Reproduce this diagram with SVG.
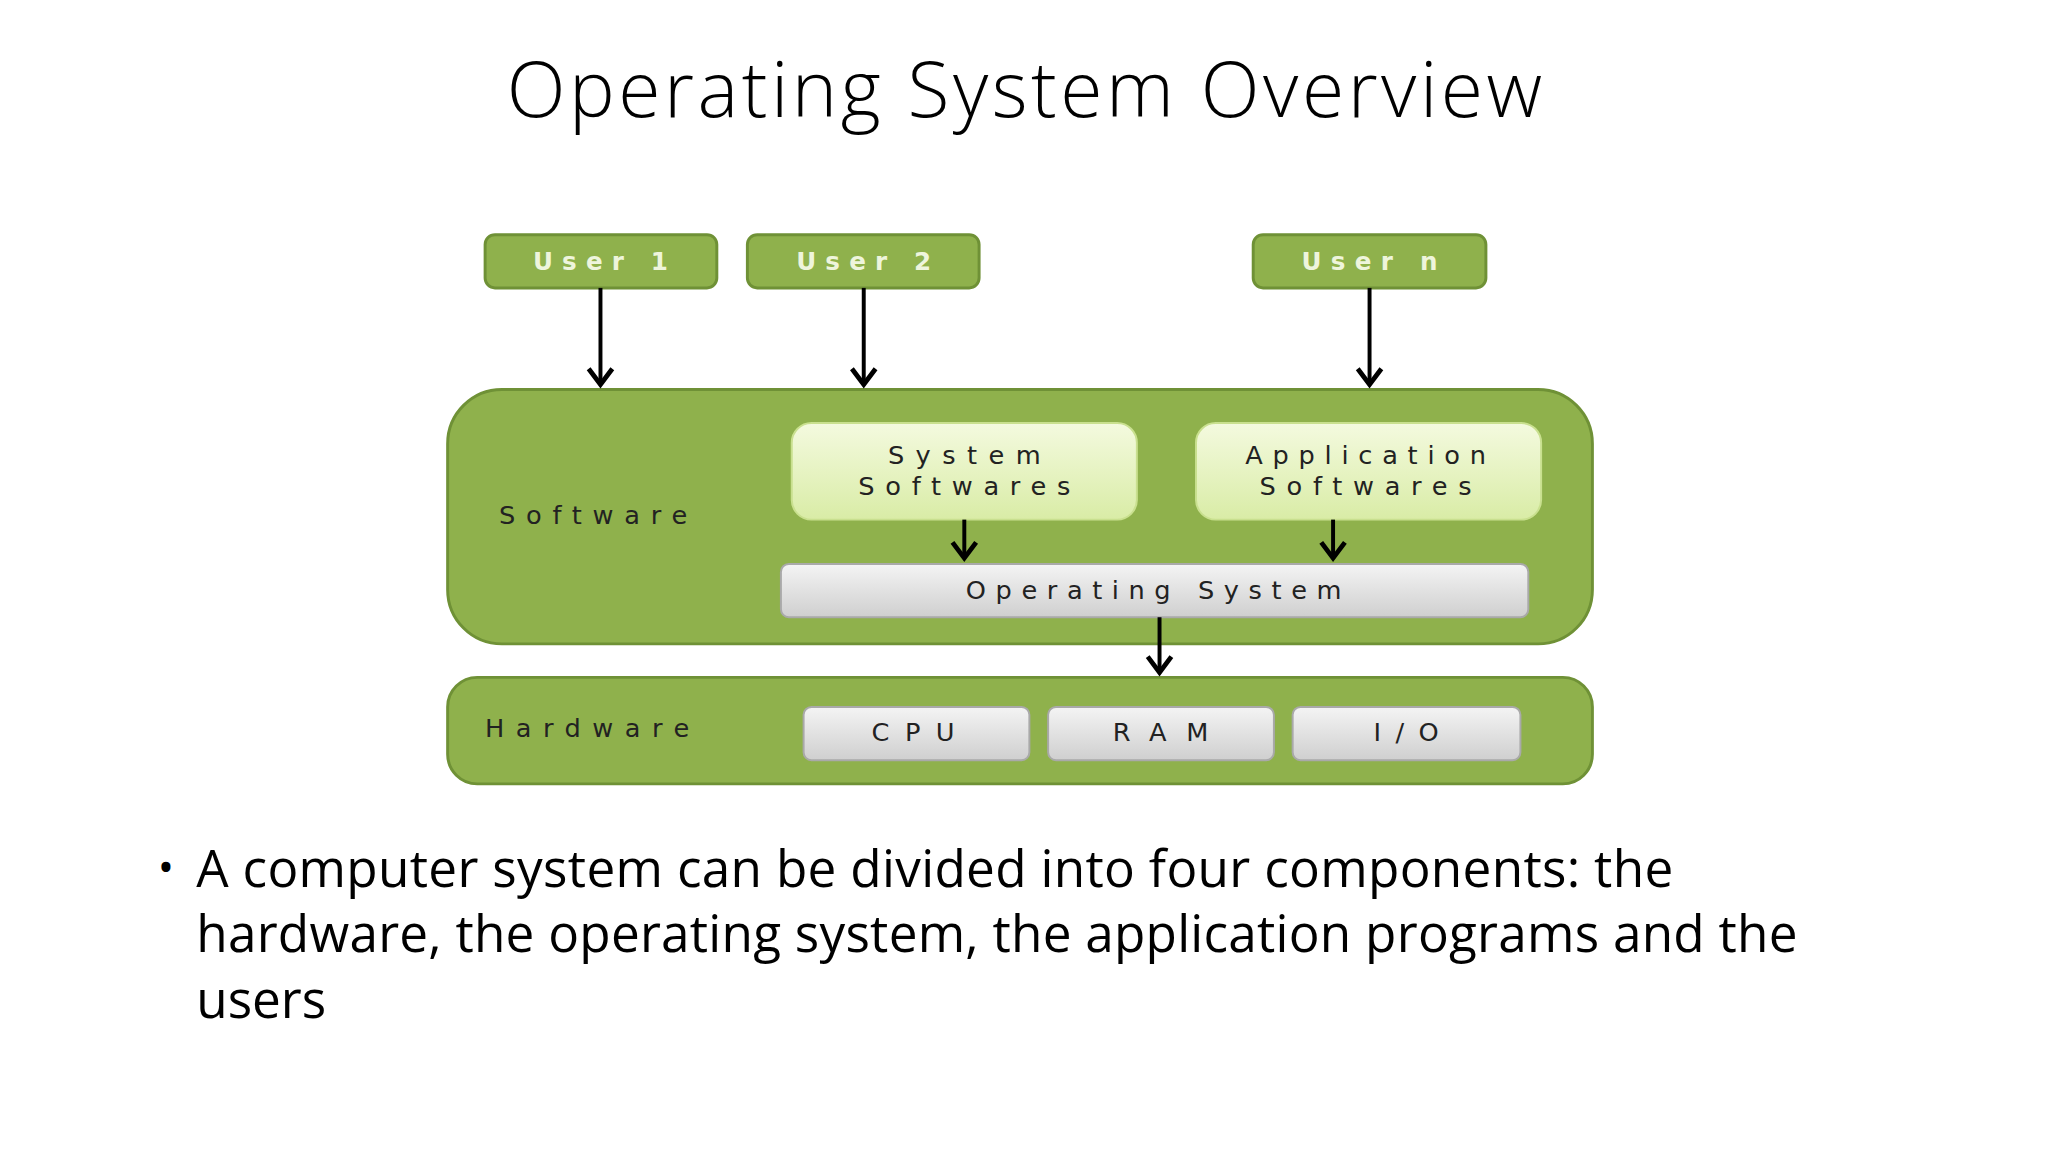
<svg xmlns="http://www.w3.org/2000/svg" width="2048" height="1152" viewBox="0 0 2048 1152">
<style>
.g{fill:#8fb14c;stroke:#6f9136;stroke-width:3}
.u{fill:#8fb14c;stroke:#6f9136;stroke-width:3}
.ut{font-family:"DejaVu Sans",sans-serif;font-size:25px;font-weight:bold;fill:#eef5dc;text-anchor:middle}
.t{font-family:"DejaVu Sans",sans-serif;font-size:26px;fill:#222;text-anchor:middle}
.lt{font-family:"DejaVu Sans",sans-serif;font-size:26px;fill:#222}
.gr{fill:url(#gg);stroke:#a9a9a9;stroke-width:2}
.lg{fill:url(#lg);stroke:#c9e08f;stroke-width:2}
.c{stroke:#000;stroke-width:4;fill:none;marker-end:url(#ah)}
</style>
<defs>
<linearGradient id="gg" x1="0" y1="0" x2="0" y2="1"><stop offset="0" stop-color="#f4f4f4"/><stop offset="1" stop-color="#cfcfcf"/></linearGradient>
<linearGradient id="lg" x1="0" y1="0" x2="0" y2="1"><stop offset="0" stop-color="#f4fadf"/><stop offset="1" stop-color="#d9eca6"/></linearGradient>
<marker id="ah" markerWidth="8" markerHeight="8" refX="5" refY="4" orient="auto" markerUnits="strokeWidth"><path d="M1,1 L5,4 L1,7" fill="none" stroke="#000" stroke-width="1.2"/></marker>
</defs>
<rect width="2048" height="1152" fill="#fff"/>
<g transform="scale(0.986)">
<text x="1039" y="119" font-family="'Open Sans',sans-serif" font-weight="300" font-size="78" text-anchor="middle" textLength="1050" fill="#000">Operating System Overview</text>
<g id="software"><rect class="g" x="454" y="395" width="1161" height="258" rx="55"/><text class="lt" x="506" y="531" textLength="191">Software</text></g>
<g id="hardware"><rect class="g" x="454" y="687" width="1161" height="108" rx="30"/><text class="lt" x="492" y="747" textLength="207">Hardware</text></g>
<g id="user1"><rect class="u" x="492" y="238" width="235" height="54" rx="10"/><text class="ut" x="609" y="274" textLength="137">User 1</text></g>
<g id="user2"><rect class="u" x="758" y="238" width="235" height="54" rx="10"/><text class="ut" x="876" y="274" textLength="137">User 2</text></g>
<g id="usern"><rect class="u" x="1271" y="238" width="236" height="54" rx="10"/><text class="ut" x="1389" y="274" textLength="138">User n</text></g>
<g id="syssw"><rect class="lg" x="803" y="429" width="350" height="98" rx="20"/><text class="t" x="978" y="471" textLength="155">System</text><text class="t" x="978" y="502" textLength="215">Softwares</text></g>
<g id="appsw"><rect class="lg" x="1213" y="429" width="350" height="98" rx="20"/><text class="t" x="1385" y="471" textLength="244">Application</text><text class="t" x="1385" y="502" textLength="215">Softwares</text></g>
<g id="os"><rect class="gr" x="792" y="572" width="758" height="54" rx="8"/><text class="t" x="1170" y="607" textLength="381">Operating System</text></g>
<g id="cpu"><rect class="gr" x="815" y="717" width="229" height="54" rx="8"/><text class="t" x="926" y="752" textLength="84">CPU</text></g>
<g id="ram"><rect class="gr" x="1063" y="717" width="229" height="54" rx="8"/><text class="t" x="1177" y="752" textLength="97">RAM</text></g>
<g id="io"><rect class="gr" x="1311" y="717" width="231" height="54" rx="8"/><text class="t" x="1426" y="752" textLength="66">I/O</text></g>
<g id="connectors">
<line class="c" x1="609" y1="292" x2="609" y2="390"/>
<line class="c" x1="876" y1="292" x2="876" y2="390"/>
<line class="c" x1="1389" y1="292" x2="1389" y2="390"/>
<line class="c" x1="978" y1="527" x2="978" y2="566"/>
<line class="c" x1="1352" y1="527" x2="1352" y2="566"/>
<line class="c" x1="1176" y1="626" x2="1176" y2="682"/>
</g>
<g font-family="'Open Sans',sans-serif" font-size="52" fill="#000">
<text x="160" y="896" font-size="44">•</text>
<text x="199" y="900" textLength="1498">A computer system can be divided into four components: the</text>
<text x="199" y="966" textLength="1624">hardware, the operating system, the application programs and the</text>
<text x="199" y="1032">users</text>
</g>
</g>
</svg>
